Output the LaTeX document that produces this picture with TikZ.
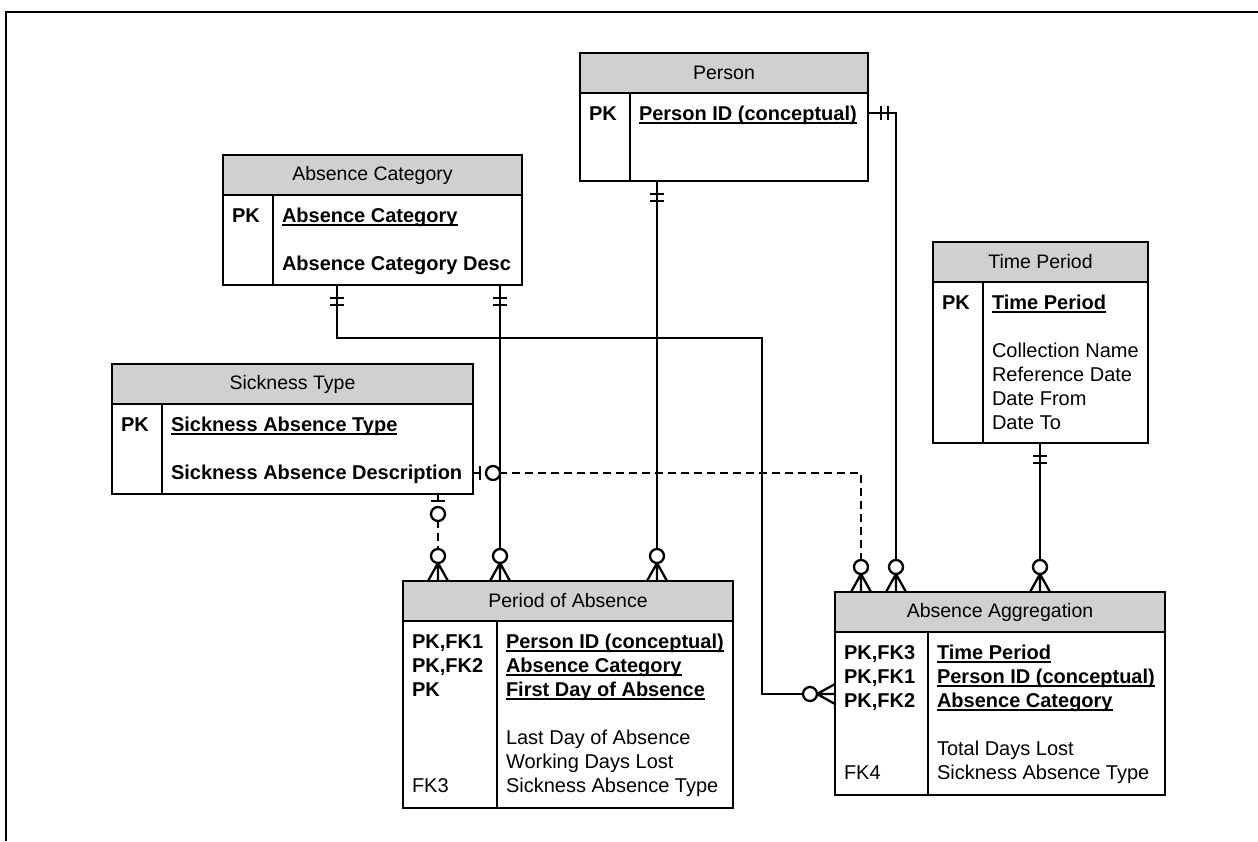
\documentclass[tikz,border=0pt]{standalone}
\usepackage{fontspec}
\setmainfont{Liberation Sans}
\usetikzlibrary{calc}

\definecolor{headgray}{RGB}{208,208,208}

% underlined key attribute
\newcommand{\pkey}[1]{\setbox0\hbox{#1}\rlap{\rule[-3.5pt]{\wd0}{1.8pt}}\box0}

% entity: name, left, top, width, height, divider offset, title, rows
\newcommand{\erentity}[8]{%
  \node[entbox, minimum width=#4pt, minimum height=#5pt] (#1) at (#2,#3) {};
  \node[titlebox, minimum width=#4pt] (#1-title) at (#2,#3) {#7};
  \draw[boxline] ($(#1-title.south west)+(#6,0)$) -- ($(#1.south west)+(#6,0)$);
  \node[bodytext] (#1-body) at ($(#1-title.south west)+(9,27)$)
    {\begin{tabular}[t]{@{}p{#6pt}@{}l@{}}#8\end{tabular}};
}

\tikzset{
  erfont/.style={font=\fontsize{20}{24}\selectfont},
  entbox/.style={draw, line width=1.8pt, anchor=north west, inner sep=0pt, outer sep=0pt},
  titlebox/.style={entbox, fill=headgray, minimum height=40pt, font=\fontsize{19.5}{24}\selectfont},
  bodytext/.style={anchor=base west, inner sep=0pt, outer sep=0pt, erfont},
  boxline/.style={line width=1.8pt},
  erline/.style={line width=2.3pt},
  erdash/.style={erline, dash pattern=on 8pt off 5pt},
  onlyone/.pic={\draw[erline] (13,-7) -- (13,7) (20,-7) -- (20,7);},
  zeroone/.pic={\draw[erline] (7,-7) -- (7,7);
                \draw[erline, fill=white] (20,0) circle[radius=7];},
  zeromany/.pic={\draw[erline] (0,-10) -- (18,0) -- (0,10) (0,0) -- (18,0);
                 \draw[erline, fill=white] (25,0) circle[radius=7];},
}

\begin{document}
\begin{tikzpicture}[x=1pt, y=-1pt]
\useasboundingbox (0,0) rectangle (1258,841);

% page frame (top and left edges)
\draw[line width=2pt] (6,841) -- (6,12) -- (1258,12);

% entities
\erentity{person}{580}{53}{288}{128}{50}{Person}
  {\textbf{PK} & \pkey{\textbf{Person ID (conceptual)}}}
\erentity{abscat}{223}{155}{299}{130}{50}{Absence Category}
  {\textbf{PK} & \pkey{\textbf{Absence Category}}\\ & \\
   & \textbf{Absence Category Desc}}
\erentity{timep}{933}{242}{215}{201}{50}{Time Period}
  {\textbf{PK} & \pkey{\textbf{Time Period}}\\ & \\
   & Collection Name\\ & Reference Date\\ & Date From\\ & Date To}
\erentity{sick}{112}{364}{361}{130}{50}{Sickness Type}
  {\textbf{PK} & \pkey{\textbf{Sickness Absence Type}}\\ & \\
   & \textbf{Sickness Absence Description}}
\erentity{period}{403}{581}{330}{227}{94}{Period of Absence}
  {\textbf{PK,FK1} & \pkey{\textbf{Person ID (conceptual)}}\\
   \textbf{PK,FK2} & \pkey{\textbf{Absence Category}}\\
   \textbf{PK} & \pkey{\textbf{First Day of Absence}}\\ & \\
   & Last Day of Absence\\ & Working Days Lost\\
   FK3 & Sickness Absence Type}
\erentity{absagg}{835}{592}{330}{203}{93}{Absence Aggregation}
  {\textbf{PK,FK3} & \pkey{\textbf{Time Period}}\\
   \textbf{PK,FK1} & \pkey{\textbf{Person ID (conceptual)}}\\
   \textbf{PK,FK2} & \pkey{\textbf{Absence Category}}\\ & \\
   & Total Days Lost\\
   FK4 & Sickness Absence Type}

% connector end points
\coordinate (ac-a) at ($(abscat.south west)+(114,0)$);
\coordinate (ac-b) at ($(abscat.south west)+(277,0)$);
\coordinate (pe-b) at ($(person.south west)+(77,0)$);
\coordinate (pe-r) at ($(person.north east)+(0,60)$);
\coordinate (tp-b) at ($(timep.south west)+(107,0)$);
\coordinate (sk-b) at ($(sick.south west)+(326,0)$);
\coordinate (sk-r) at ($(sick.north east)+(0,109)$);
\coordinate (pa-s) at ($(period.north west)+(35,0)$);
\coordinate (pa-c) at ($(period.north west)+(97,0)$);
\coordinate (pa-p) at ($(period.north west)+(254,0)$);
\coordinate (ag-c) at ($(absagg.north west)+(0,102)$);
\coordinate (ag-s) at ($(absagg.north west)+(26,0)$);
\coordinate (ag-p) at ($(absagg.north west)+(61,0)$);
\coordinate (ag-t) at ($(absagg.north west)+(205,0)$);

% relationships
\draw[erline] (ac-a) -- ++(0,53) -| ($(ag-c)+(-73,0)$) -- (ag-c);
\draw[erline] (ac-b) -- (pa-c);
\draw[erline] (pe-b) -- (pa-p);
\draw[erline] (pe-r) -| (ag-p);
\draw[erline] (tp-b) -- (ag-t);
\draw[erdash] (sk-b) -- (pa-s);
\draw[erdash] (sk-r) -| (ag-s);

% cardinality marks
\pic[rotate=-90] at (ac-a) {onlyone};
\pic[rotate=-90] at (ac-b) {onlyone};
\pic[rotate=-90] at (pe-b) {onlyone};
\pic at (pe-r) {onlyone};
\pic[rotate=-90] at (tp-b) {onlyone};
\pic[rotate=-90] at (sk-b) {zeroone};
\pic at (sk-r) {zeroone};
\pic[rotate=90] at (pa-s) {zeromany};
\pic[rotate=90] at (pa-c) {zeromany};
\pic[rotate=90] at (pa-p) {zeromany};
\pic[rotate=180] at (ag-c) {zeromany};
\pic[rotate=90] at (ag-s) {zeromany};
\pic[rotate=90] at (ag-p) {zeromany};
\pic[rotate=90] at (ag-t) {zeromany};
\end{tikzpicture}
\end{document}
